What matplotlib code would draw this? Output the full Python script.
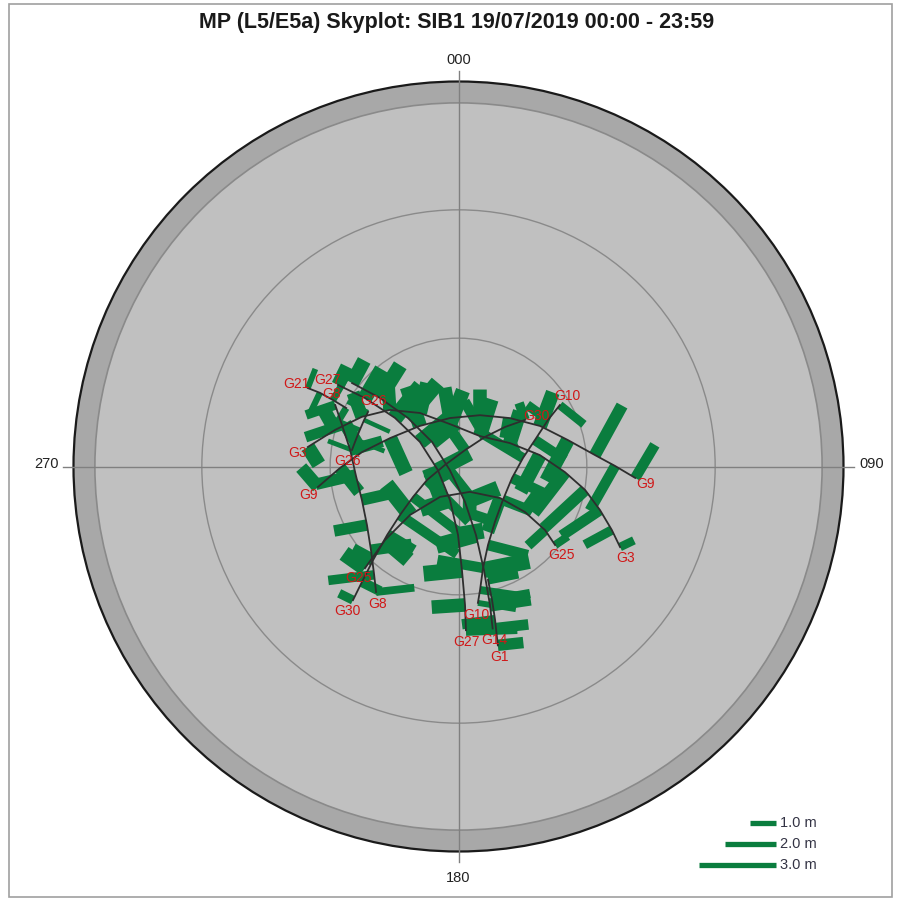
import numpy as np
import matplotlib
matplotlib.use("Agg")
import matplotlib.pyplot as plt
from matplotlib.patches import Circle, Rectangle
from matplotlib.collections import PolyCollection

plt.rcParams['font.family'] = ['Liberation Sans', 'DejaVu Sans']

# satellite passes: azimuth (deg), elevation (deg), multipath (m)
sats = ['G27', 'G14', 'G1', 'G8', 'G3', 'G9', 'G10', 'G30', 'G25', 'G26', 'G21']

g27_az = [304.1, 306.2, 307.4, 302.5, 260.3, 194.2, 180.4, 178.1, 177.3, 177.4]
g27_el = [56.0, 62.9, 71.3, 79.3, 85.1, 81.9, 74.0, 65.8, 57.6, 51.7]
g27_mp = [0.8, 1.3, 1.6, 1.9, 1.4, -1.2, 1.0, -1.5, -1.3, 2.0]

g14_az = [308.1, 311.1, 313.8, 312.8, 247.6, 169.6, 165.7, 166.2, 167.2, 168.1]
g14_el = [58.4, 65.6, 73.6, 81.6, 87.8, 81.6, 73.5, 65.1, 56.8, 51.3]
g14_mp = [1.0, 1.5, 1.8, 1.2, -1.0, 1.4, -1.6, 1.8, 1.6, 1.4]

g1_az = [165.4, 165.9, 166.6, 167.6]
g1_el = [62.6, 57.8, 53.1, 47.2]
g1_mp = [1.2, 1.5, -1.3, 1.0]

g8_az = [296.5, 289.6, 278.6, 265.3, 250.9, 237.4, 226.3, 217.9, 213.3]
g8_el = [57.8, 61.1, 64.4, 65.9, 66.1, 64.6, 61.7, 57.9, 54.9]
g8_mp = [-1.2, -1.5, 1.3, -1.6, 1.4, -1.3, 1.6, -1.8, 1.5]

g3_az = [277.4, 286.5, 297.2, 309.5, 324.3, 348.7, 35.2, 65.5, 82.0, 93.0, 100.5, 107.1, 112.5, 116.5]
g3_el = [54.5, 59.9, 64.6, 69.2, 74.6, 79.9, 81.3, 76.8, 70.8, 65.1, 59.9, 55.4, 51.2, 47.8]
g3_mp = [-0.8, 0.9, 1.0, 1.1, 1.2, 1.4, 1.5, 1.3, -1.6, -2.0, -2.2, -1.8, -1.2, 0.6]

g9_az = [261.7, 269.3, 278.5, 292.6, 316.4, 350.1, 22.7, 46.7, 63.6, 76.4, 85.2, 89.8, 93.7]
g9_el = [56.8, 62.3, 67.2, 72.7, 76.9, 78.5, 77.0, 73.5, 68.7, 63.7, 58.0, 53.4, 48.6]
g9_mp = [1.0, -1.2, 1.3, -1.5, 1.6, 1.2, 1.0, -0.8, 1.4, -1.8, 2.2, -2.0, 1.5]

g10_az = [58.8, 62.5, 70.9, 82.5, 102.1, 127.0, 146.7, 159.4, 166.4, 170.1, 171.9]
g10_el = [62.3, 66.4, 71.1, 74.8, 77.2, 77.0, 74.5, 70.4, 65.6, 60.7, 57.8]
g10_mp = [1.2, -1.0, 1.4, -1.8, 1.5, 1.2, -1.3, 1.6, -1.8, 1.7, 1.5]

g30_az = [218.3, 219.9, 222.4, 226.2, 230.3, 236.2, 246.8, 276.3, 21.5, 41.9, 49.7, 55.0]
g30_el = [50.2, 54.8, 60.4, 66.9, 72.2, 77.2, 82.0, 86.8, 85.9, 80.7, 75.7, 71.0]
g30_mp = [0.6, -0.8, 0.9, -1.2, -2.7, -2.6, -2.3, -1.6, 1.3, 1.6, -1.2, 0.7]

g25_az = [222.6, 225.0, 225.0, 211.2, 155.7, 127.2, 124.4, 126.3, 129.1]
g25_el = [57.7, 65.7, 74.0, 81.7, 83.5, 77.8, 71.2, 64.9, 60.9]
g25_mp = [1.0, -1.2, 1.5, 1.2, -1.0, -1.4, 1.1, -0.9, 0.6]

g26_az = [278.8, 284.5, 290.3, 296.2, 301.1]
g26_el = [64.8, 65.2, 65.4, 65.4, 65.3]
g26_mp = [1.0, -1.2, 1.4, -1.1, 0.9]

g21_az = [297.5, 298.0, 297.9, 297.5]
g21_el = [50.3, 53.3, 56.8, 60.4]
g21_mp = [0.8, -1.0, 1.2, -0.9]

az_data = [g27_az, g14_az, g1_az, g8_az, g3_az, g9_az, g10_az, g30_az, g25_az, g26_az, g21_az]
el_data = [g27_el, g14_el, g1_el, g8_el, g3_el, g9_el, g10_el, g30_el, g25_el, g26_el, g21_el]
mp_data = [g27_mp, g14_mp, g1_mp, g8_mp, g3_mp, g9_mp, g10_mp, g30_mp, g25_mp, g26_mp, g21_mp]

# which ends of each pass get a PRN label
label_start = [True, False, False, True, True, True, True, True, True, True, True]
label_end = [True, True, True, True, True, True, True, True, True, True, False]

legend_mp = [1.0, 2.0, 3.0]

MP_SCALE = 6.0      # plot units per metre of multipath
PX = 90.0 / 385.0   # plot units per pixel
GREEN = '#0a7d3e'

fig = plt.figure(figsize=(8.97, 9.0), dpi=100)
ax = fig.add_axes([0, 0, 1, 1])
ax.set_xlim(-458.5 * PX, (897 - 458.5) * PX)
ax.set_ylim(-(900 - 466.5) * PX, 466.5 * PX)
ax.axis('off')

# frame around the figure
fig.patches.append(Rectangle((9 / 897, 3 / 900), 883 / 897, 893 / 900, transform=fig.transFigure,
                             fill=False, ec='#a0a0a0', lw=1.2))

# sky dome: horizon band below 5 deg mask, then elevation rings
ax.add_patch(Circle((0, 0), 90, fc='#a8a8a8', ec='#1a1a1a', lw=1.6, zorder=1))
ax.add_patch(Circle((0, 0), 85, fc='#c0c0c0', ec='#8a8a8a', lw=1.2, zorder=1))
for r in [30, 60]:
    ax.add_patch(Circle((0, 0), r, fill=False, ec='#8a8a8a', lw=1.0, zorder=2))
ax.plot([-92.5, 92.5], [0, 0], color='#808080', lw=1.0, zorder=2)
ax.plot([0, 0], [-92.5, 92.5], color='#808080', lw=1.0, zorder=2)

ax.text(0, 95.0, '000', ha='center', va='center', fontsize=10.5, color='#222222')
ax.text(0, -96.3, '180', ha='center', va='center', fontsize=10.5, color='#222222')
ax.text(-96.4, 0.6, '270', ha='center', va='center', fontsize=10.5, color='#222222')
ax.text(96.6, 0.6, '090', ha='center', va='center', fontsize=10.5, color='#222222')

bars = []
for k, sat in enumerate(sats):
    az = np.radians(az_data[k])
    r = 90.0 - np.array(el_data[k])
    x = r * np.sin(az)
    y = r * np.cos(az)
    p = np.column_stack([x, y])
    n_pts = len(p)
    for i in range(n_pts):
        a = p[max(i - 1, 0)]
        b = p[min(i + 1, n_pts - 1)]
        t = (b - a) / np.linalg.norm(b - a)
        nrm = np.array([-t[1], t[0]])
        gaps = []
        if i > 0:
            gaps.append(np.linalg.norm(p[i] - p[i - 1]))
        if i < n_pts - 1:
            gaps.append(np.linalg.norm(p[i + 1] - p[i]))
        w = 0.45 * np.mean(gaps)
        L = mp_data[k][i] * MP_SCALE
        c = p[i]
        bars.append([c - t * w / 2, c + t * w / 2, c + t * w / 2 + nrm * L, c - t * w / 2 + nrm * L])
    ax.plot(x, y, color='#2e2e2e', lw=1.3, zorder=4)

    # PRN labels just beyond each end of the pass
    ends = []
    if label_start[k]:
        d = p[0] - p[1]
        ends.append(p[0] + d / np.linalg.norm(d) * 12 * PX)
    if label_end[k]:
        d = p[-1] - p[-2]
        ends.append(p[-1] + d / np.linalg.norm(d) * 12 * PX)
    for e in ends:
        ax.text(e[0], e[1], sat, ha='center', va='center', fontsize=10, color='#d01818', zorder=6)

ax.add_collection(PolyCollection(bars, facecolors=GREEN, edgecolors='none', zorder=3))

# multipath scale key
x_right = (776 - 458.5) * PX
for j, m in enumerate(legend_mp):
    yk = (466.5 - (823 + 21 * j)) * PX
    ax.plot([x_right - m * MP_SCALE, x_right], [yk, yk], color=GREEN, lw=3.8, solid_capstyle='butt')
    ax.text(x_right + 1.0, yk, f'{m:.1f} m', ha='left', va='center', fontsize=10.5, color='#333344')

fig.text(0.509, 0.9745, 'MP (L5/E5a) Skyplot: SIB1 19/07/2019 00:00 - 23:59',
         ha='center', va='center', fontsize=15.5, fontweight='bold', color='#1a1a1a')

fig.savefig('out.png', dpi=100)
